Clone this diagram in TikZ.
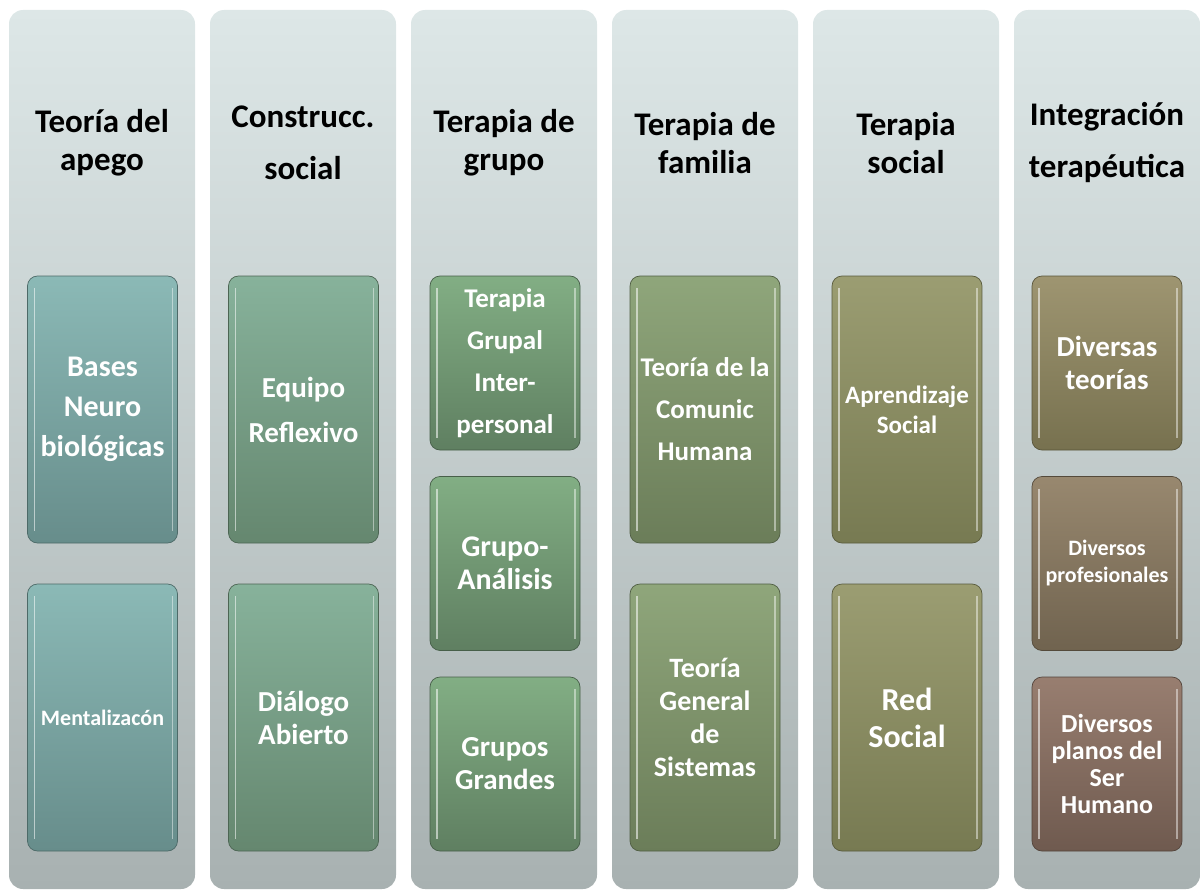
\documentclass[tikz,border=0pt]{standalone}
\usepackage{fontspec}
\setmainfont{Carlito}
\definecolor{column top}{HTML}{DDE7E7}
\definecolor{column bottom}{HTML}{A8B1B1}
\definecolor{apego top}{HTML}{8BB9B6}
\definecolor{apego bottom}{HTML}{678D8B}
\definecolor{constr top}{HTML}{87B29B}
\definecolor{constr bottom}{HTML}{65876F}
\definecolor{grupo top}{HTML}{82AE84}
\definecolor{grupo bottom}{HTML}{5F7F61}
\definecolor{familia top}{HTML}{8FA67B}
\definecolor{familia bottom}{HTML}{6B7D59}
\definecolor{social top}{HTML}{9B9D72}
\definecolor{social bottom}{HTML}{777A52}
\definecolor{teorias top}{HTML}{9E9571}
\definecolor{teorias bottom}{HTML}{77714F}
\definecolor{profes top}{HTML}{98886F}
\definecolor{profes bottom}{HTML}{70634F}
\definecolor{planos top}{HTML}{987E70}
\definecolor{planos bottom}{HTML}{6F5A4F}
\tikzset{
    % Columns
    column box/.style={rounded corners=14pt, top color=column top, bottom color=column bottom,
        minimum width=186pt, minimum height=879pt, inner sep=0pt},
    head/.style={align=center, font=\fontsize{33}{38}\selectfont\bfseries},
    wide head/.style={head, font=\fontsize{33}{52}\selectfont\bfseries},
    %
    % Items
    bevel/.style={path picture={
        \draw[white, opacity=.55, line width=1.6pt]
            ([xshift=7pt,yshift=-12pt]path picture bounding box.north west)
            -- ([xshift=7pt,yshift=12pt]path picture bounding box.south west);
        \draw[white, opacity=.45, line width=1.6pt]
            ([xshift=-5pt,yshift=-12pt]path picture bounding box.north east)
            -- ([xshift=-5pt,yshift=12pt]path picture bounding box.south east);
    }},
    item box/.style={rounded corners=10pt, top color=#1 top, bottom color=#1 bottom,
        draw=#1 bottom!75!black, line width=.7pt, minimum width=150pt, inner sep=0pt,
        bevel, text=white, align=center, font=\fontsize{28}{34}\selectfont\bfseries},
    long item/.style={item box=#1, minimum height=267pt},
    short item/.style={item box=#1, minimum height=174pt},
    small text/.style={font=\fontsize{22}{27}\selectfont\bfseries},
    spread text/.style={font=\fontsize{27}{42}\selectfont\bfseries}
}

\begin{document}
\begin{tikzpicture}[x=1pt,y=-1pt]
    \useasboundingbox (0,0) rectangle (1200,891);
    % backgrounds
    \node[column box] (col1) at (102,449.5) {};
    \node[column box] (col2) at (303,449.5) {};
    \node[column box] (col3) at (504,449.5) {};
    \node[column box] (col4) at (705,449.5) {};
    \node[column box] (col5) at (906,449.5) {};
    \node[column box] (col6) at (1107,449.5) {};
    % titles
    \node[head] (apego) at (102,143) {Teoría del\\apego};
    \node[wide head] (constr) at (303,143) {Construcc.\\social};
    \node[head] (grupo) at (504,143) {Terapia de\\grupo};
    \node[head] (familia) at (705,143) {Terapia de\\familia};
    \node[head] (social) at (906,143) {Terapia\\social};
    \node[wide head] (integr) at (1107,143) {Integración\\terapéutica};
    % items
    \node[long item=apego, font=\fontsize{30}{40}\selectfont\bfseries] (bases) at (102.5,409.5) {Bases\\Neuro\\biológicas};
    \node[long item=apego, small text] (mentaliz) at (102.5,717.5) {Mentalizacón};
    \node[long item=constr, font=\fontsize{29}{45}\selectfont\bfseries] (equipo) at (303.5,409.5) {Equipo\\Reflexivo};
    \node[long item=constr, font=\fontsize{29}{33}\selectfont\bfseries] (dialogo) at (303.5,717.5) {Diálogo\\Abierto};
    \node[short item=grupo, spread text] (tgi) at (505,363) {Terapia\\Grupal\\Inter-\\personal};
    \node[short item=grupo, font=\fontsize{30}{33}\selectfont\bfseries] (analisis) at (505,563.5) {Grupo-\\Análisis};
    \node[short item=grupo, font=\fontsize{29}{33}\selectfont\bfseries] (grandes) at (505,764) {Grupos\\Grandes};
    \node[long item=familia, spread text] (comunic) at (705,409.5) {Teoría de la\\Comunic\\Humana};
    \node[long item=familia, font=\fontsize{28}{33}\selectfont\bfseries] (sistemas) at (705,717.5) {Teoría\\General\\de\\Sistemas};
    \node[long item=social, font=\fontsize{25}{30}\selectfont\bfseries] (aprend) at (907,409.5) {Aprendizaje\\Social};
    \node[long item=social, font=\fontsize{32}{37}\selectfont\bfseries] (red) at (907,717.5) {Red\\Social};
    \node[short item=teorias, font=\fontsize{29}{33}\selectfont\bfseries] (diversas) at (1107,363) {Diversas\\teorías};
    \node[short item=profes, small text] (profes) at (1107,563.5) {Diversos\\profesionales};
    \node[short item=planos, font=\fontsize{26}{27}\selectfont\bfseries] (planos) at (1107,764) {Diversos\\planos del\\Ser\\Humano};
\end{tikzpicture}
\end{document}
